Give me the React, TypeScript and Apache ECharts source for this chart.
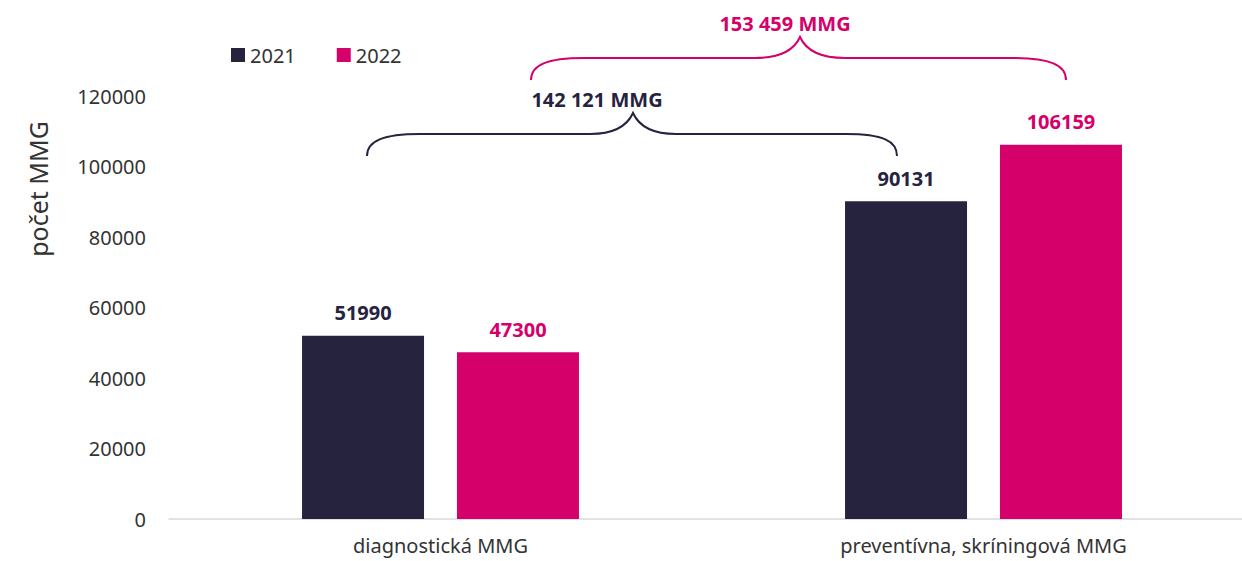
import React, { useEffect, useRef } from "react";
import * as echarts from "echarts";

const categories = ["diagnostická MMG", "preventívna, skríningová MMG"];
const seriesNames = ["2021", "2022"];
const values2021 = [51990, 90131];
const values2022 = [47300, 106159];
const total2021Label = "142 121 MMG";
const total2022Label = "153 459 MMG";
const yTicks = { min: 0, max: 120000, interval: 20000 };

const NAVY = "#26233F";
const PINK = "#D5006A";
const FONT = "'Noto Sans', sans-serif";

const darkBrace =
  "M367,156 C367,141 383,134 420,134 L590,134 C617,134 628,124 633,113 C638,124 649,134 676,134 L846,134 C883,134 897,141 897,156";
const pinkBrace =
  "M531,80 C531,65 547,58 584,58 L755,58 C782,58 795,48 800,37 C805,48 818,58 845,58 L1013,58 C1050,58 1066,65 1066,80";

echarts.graphic.registerShape("braceDark", echarts.graphic.extendPath(darkBrace, {}));
echarts.graphic.registerShape("bracePink", echarts.graphic.extendPath(pinkBrace, {}));

export default function App() {
  const ref = useRef<HTMLDivElement>(null);
  useEffect(() => {
    if (!ref.current) return;
    const chart = echarts.init(ref.current, undefined, { renderer: "svg" });
    const labelStyle = (color: string) => ({
      show: true,
      position: "top",
      distance: 13,
      color,
      fontFamily: FONT,
      fontWeight: "bold",
      fontSize: 20,
    });
    chart.setOption({
      animation: false,
      textStyle: { fontFamily: FONT },
      legend: {
        data: seriesNames,
        left: 226,
        top: 40,
        icon: "rect",
        itemWidth: 14,
        itemHeight: 14,
        itemGap: 41,
        textStyle: { fontSize: 20, color: "#333", fontFamily: FONT },
      },
      grid: { left: 169, top: 96, width: 1086, bottom: 42, containLabel: false },
      xAxis: {
        type: "category",
        data: categories,
        axisTick: { show: false },
        axisLine: { lineStyle: { color: "#D9D9D9", width: 1.5 } },
        axisLabel: { color: "#333", fontSize: 20, margin: 16, fontFamily: FONT },
      },
      yAxis: {
        type: "value",
        min: yTicks.min,
        max: yTicks.max,
        interval: yTicks.interval,
        splitLine: { show: false },
        axisLine: { show: false },
        axisTick: { show: false },
        axisLabel: {
          color: "#333",
          fontSize: 20,
          margin: 23,
          fontFamily: FONT,
          formatter: (v: number) => String(v),
        },
      },
      series: [
        {
          name: seriesNames[0],
          type: "bar",
          data: values2021,
          barWidth: 122,
          barGap: "27%",
          itemStyle: { color: NAVY },
          label: labelStyle(NAVY),
        },
        {
          name: seriesNames[1],
          type: "bar",
          data: values2022,
          barWidth: 122,
          barGap: "27%",
          itemStyle: { color: PINK },
          label: labelStyle(PINK),
        },
      ],
      graphic: [
        {
          type: "text",
          x: 38,
          y: 189,
          rotation: Math.PI / 2,
          style: {
            text: "počet MMG",
            fill: "#333",
            fontSize: 25,
            fontFamily: FONT,
            align: "center",
            verticalAlign: "middle",
          },
        },
        {
          type: "braceDark",
          x: 0,
          y: 0,
          style: { stroke: NAVY, fill: "none", lineWidth: 2 },
        },
        {
          type: "bracePink",
          x: 0,
          y: 0,
          style: { stroke: PINK, fill: "none", lineWidth: 2 },
        },
        {
          type: "text",
          x: 597,
          y: 99,
          style: {
            text: total2021Label,
            fill: NAVY,
            fontSize: 20,
            fontWeight: "bold",
            fontFamily: FONT,
            align: "center",
            verticalAlign: "middle",
          },
        },
        {
          type: "text",
          x: 785,
          y: 23,
          style: {
            text: total2022Label,
            fill: PINK,
            fontSize: 20,
            fontWeight: "bold",
            fontFamily: FONT,
            align: "center",
            verticalAlign: "middle",
          },
        },
      ],
    });
    return () => chart.dispose();
  }, []);
  return (
    <div style={{ position: "fixed", left: 0, top: 0, width: 1242, height: 561, overflow: "hidden", background: "#fff" }}>
      <div ref={ref} style={{ position: "absolute", left: 0, top: 0, width: 1270, height: 561 }} />
    </div>
  );
}
